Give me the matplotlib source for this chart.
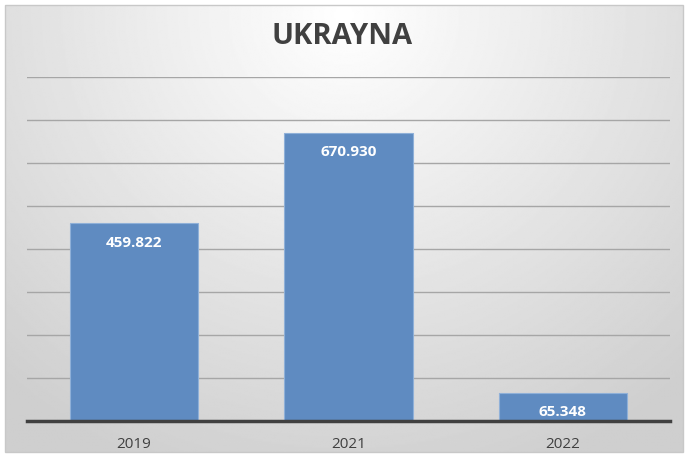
import matplotlib.pyplot as plt
import numpy as np
from matplotlib.patches import Rectangle

years = ["2019", "2021", "2022"]
values = [459.822, 670.930, 65.348]
labels = ["459.822", "670.930", "65.348"]

fig = plt.figure(figsize=(6.85, 4.55), dpi=100)
fig.patch.set_facecolor("white")

# radial gradient background of the chart area
bg = fig.add_axes([5 / 685, 1 - 452 / 455, 678 / 685, 447 / 455])
bg.set_axis_off()
yy, xx = np.mgrid[0:1:300j, 0:1:450j]
r = np.sqrt(((xx - 0.5) / 0.75) ** 2 + ((yy - 0.02) / 1.1) ** 2)
r = np.clip(r, 0, 1)
shade = 1.0 - 0.19 * r
bg.imshow(shade, cmap="gray", vmin=0, vmax=1, aspect="auto",
          extent=[0, 1, 1, 0], interpolation="bilinear")
bg.set_xlim(0, 1)
bg.set_ylim(1, 0)
fig.patches.append(Rectangle((5 / 685, 1 - 452 / 455), 678 / 685, 447 / 455,
                             transform=fig.transFigure, fill=False,
                             edgecolor="#c8c8c8", linewidth=1))

ax = fig.add_axes([27 / 685, 1 - 421 / 455, 643 / 685, 344 / 455])
ax.patch.set_alpha(0)
x = np.arange(len(years))
ax.bar(x, values, width=0.6, color="#5f8bc1", edgecolor="#8fb0d8", linewidth=0.8, zorder=3)
ax.set_xlim(-0.5, 2.5)
ax.set_ylim(0, 800)
ax.set_yticks(np.arange(0, 801, 100))
ax.yaxis.grid(True, color="#a6a6a6", linewidth=1)
ax.set_axisbelow(True)
ax.tick_params(axis="y", left=False, labelleft=False)
ax.tick_params(axis="x", bottom=False, labelsize=11, labelcolor="#404040", pad=8)
ax.set_xticks(x)
ax.set_xticklabels(years, fontfamily="Open Sans")
for s in ["top", "right", "left"]:
    ax.spines[s].set_visible(False)
ax.spines["bottom"].set_color("#404040")
ax.spines["bottom"].set_linewidth(2.5)
ax.spines["bottom"].set_zorder(4)

for xi, v, lab in zip(x, values, labels):
    ax.annotate(lab, (xi, v), xytext=(0, -9), textcoords="offset points",
                ha="center", va="top", color="white", fontsize=11,
                fontweight="bold", fontfamily="Open Sans", zorder=5)

fig.text(0.5, 1 - 37 / 455, "UKRAYNA", ha="center", va="center", fontsize=21,
         fontweight="bold", color="#404040", fontfamily="Open Sans")

fig.savefig("out.png", dpi=100)
